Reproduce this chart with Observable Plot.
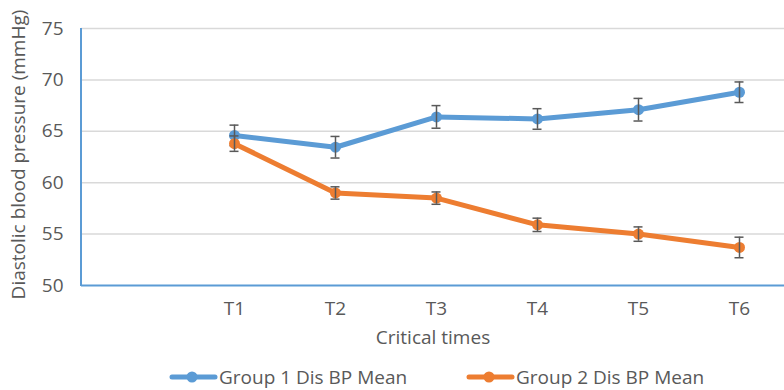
<!DOCTYPE html>
<html>
<head>
<meta charset="utf-8">
<script src="https://cdn.jsdelivr.net/npm/d3@7"></script>
<script src="https://cdn.jsdelivr.net/npm/@observablehq/plot@0.6"></script>
<style>
  body { margin: 0; background: #fff; font-family: "Open Sans", sans-serif; }
  #wrap { position: relative; width: 784px; height: 390px; overflow: hidden; }
  #legend { position: absolute; left: 0; top: 364px; width: 784px; height: 26px;
    font-family: "Open Sans", sans-serif; font-size: 19px; color: #595959; }
  .item { position: absolute; top: 0; display: flex; align-items: center; height: 26px; white-space: nowrap; }
  .item svg { margin-right: 1px; }
</style>
</head>
<body>
<div id="wrap"><div id="chart"></div><div id="legend"></div></div>
<script>
const times = ["T1", "T2", "T3", "T4", "T5", "T6"];
const group1 = [64.6, 63.45, 66.4, 66.2, 67.1, 68.8];
const group1Err = [1.0, 1.05, 1.1, 1.0, 1.1, 1.0];
const group2 = [63.8, 59.0, 58.5, 55.9, 55.0, 53.7];
const group2Err = [0.75, 0.6, 0.6, 0.65, 0.7, 1.0];
const seriesNames = ["Group 1 Dis BP Mean", "Group 2 Dis BP Mean"];
const colors = ["#5B9BD5", "#ED7D31"];
const yTicks = [50, 55, 60, 65, 70, 75];

const s1 = times.map((t, i) => ({t, v: group1[i], e: group1Err[i]}));
const s2 = times.map((t, i) => ({t, v: group2[i], e: group2Err[i]}));

const textColor = "#595959";
const errColor = "#595959";

function seriesMarks(data, color) {
  return [
    Plot.line(data, {x: "t", y: "v", stroke: color, strokeWidth: 5, strokeLinejoin: "round", strokeLinecap: "round"}),
    Plot.dot(data, {x: "t", y: "v", r: 5.5, fill: color, stroke: "none"}),
    Plot.ruleX(data, {x: "t", y1: d => d.v - d.e, y2: d => d.v + d.e, stroke: errColor, strokeWidth: 1.5}),
    Plot.ruleY(data, {x1: "t", x2: "t", y: d => d.v + d.e, insetLeft: -4.5, insetRight: -4.5, stroke: errColor, strokeWidth: 1.5}),
    Plot.ruleY(data, {x1: "t", x2: "t", y: d => d.v - d.e, insetLeft: -4.5, insetRight: -4.5, stroke: errColor, strokeWidth: 1.5})
  ];
}

const chart = Plot.plot({
  width: 784,
  height: 358,
  marginTop: 28,
  marginBottom: 73,
  marginLeft: 81,
  marginRight: 0,
  style: {fontFamily: "'Open Sans', sans-serif", color: textColor, background: "#fff", overflow: "visible"},
  x: {type: "point", domain: ["", ...times], range: [80.5, 791], padding: 0.5},
  y: {domain: [50, 75]},
  marks: [
    Plot.ruleY(yTicks.slice(1), {stroke: "#D9D9D9", strokeWidth: 1.5}),
    Plot.ruleY([50], {stroke: "#5B9BD5", strokeWidth: 2}),
    Plot.axisY({ticks: yTicks, tickSize: 0, tickPadding: 18, fontSize: 19, fill: textColor, label: null}),
    Plot.axisX({ticks: times, tickSize: 0, tickPadding: 16, fontSize: 19, fill: textColor, label: null}),
    Plot.text(["Critical times"], {frameAnchor: "bottom", dy: 58, fontSize: 19, fill: textColor}),
    Plot.text(["Diastolic blood pressure (mmHg)"], {frameAnchor: "left", rotate: -90, textAnchor: "middle", dx: -63, dy: -2.5, fontSize: 19, fill: textColor}),
    ...seriesMarks(s1, colors[0]),
    ...seriesMarks(s2, colors[1])
  ]
});

// left axis line
d3.select(chart).append("line")
  .attr("x1", 81).attr("x2", 81).attr("y1", 28).attr("y2", 286)
  .attr("stroke", "#5B9BD5").attr("stroke-width", 2);

document.getElementById("chart").appendChild(chart);

const legend = document.getElementById("legend");
const lefts = [169, 466];
seriesNames.forEach((name, i) => {
  const item = document.createElement("div");
  item.className = "item";
  item.style.left = lefts[i] + "px";
  item.innerHTML = `<svg width="49" height="12"><line x1="3" x2="46" y1="6" y2="6" stroke="${colors[i]}" stroke-width="5" stroke-linecap="round"/><circle cx="23" cy="6" r="5.5" fill="${colors[i]}"/></svg><span>${name}</span>`;
  legend.appendChild(item);
});
</script>
</body>
</html>
